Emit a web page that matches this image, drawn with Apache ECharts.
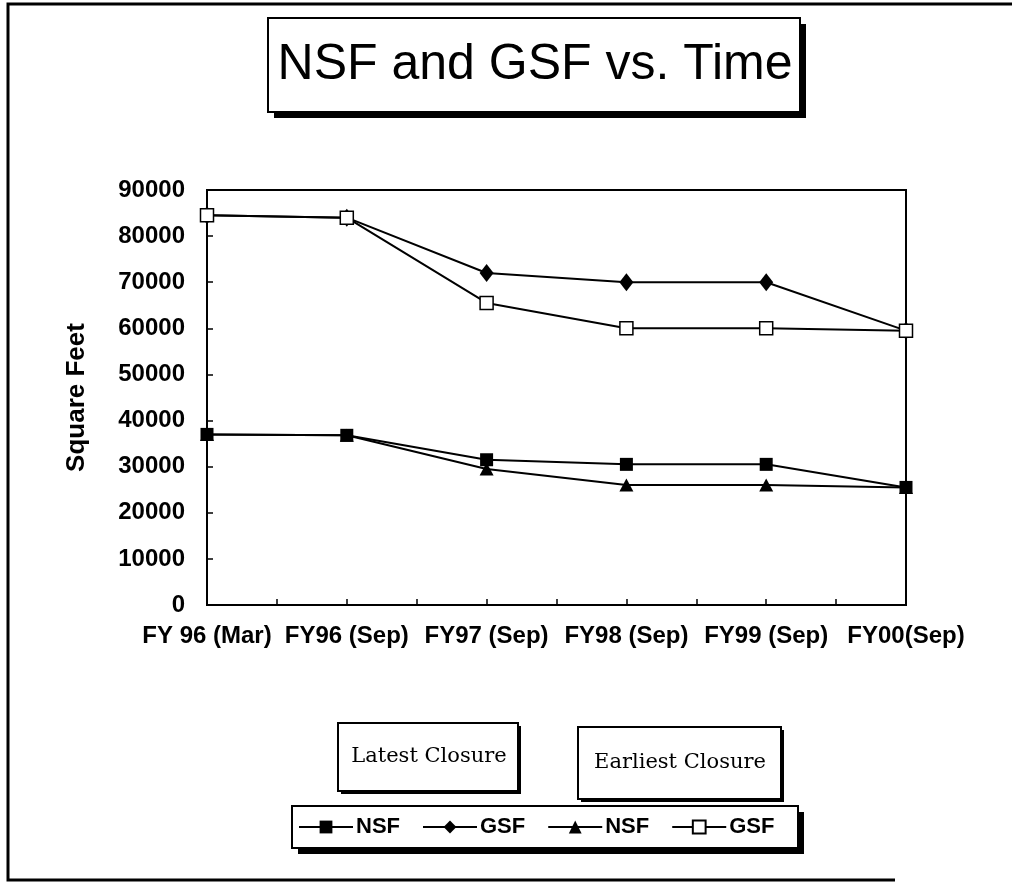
<!DOCTYPE html>
<html>
<head>
<meta charset="utf-8">
<script src="https://cdn.jsdelivr.net/npm/echarts@6/dist/echarts.min.js"></script>
<style>
  html, body { margin: 0; padding: 0; background: #fff; }
  #main { width: 1016px; height: 884px; }
</style>
</head>
<body>
<div id="main"></div>
<script>
// x categories (fiscal year snapshots)
const categories = ['FY 96 (Mar)', 'FY96 (Sep)', 'FY97 (Sep)', 'FY98 (Sep)', 'FY99 (Sep)', 'FY00(Sep)'];
// latest closure
const nsfLatest = [37000, 36800, 31500, 30500, 30500, 25500];
const gsfLatest = [84500, 84000, 72000, 70000, 70000, 59500];
// earliest closure
const nsfEarliest = [37000, 36800, 29500, 26000, 26000, 25500];
const gsfEarliest = [84500, 84000, 65500, 60000, 60000, 59500];
// y axis ticks
const yMin = 0, yMax = 90000, yStep = 10000;

const font = 'Liberation Sans, Arial, sans-serif';

function pairs(arr) {
  return arr.map((v, i) => [i, v]);
}

// box with a hard drop shadow
function box(x, y, w, h, sh, lw) {
  return [
    { type: 'rect', shape: { x: x + sh, y: y + sh, width: w, height: h }, style: { fill: '#000' }, z: 0 },
    { type: 'rect', shape: { x: x, y: y, width: w, height: h }, style: { fill: '#fff', stroke: '#000', lineWidth: lw }, z: 1 }
  ];
}

let myChart = echarts.init(document.getElementById('main'));
myChart.setOption({
  backgroundColor: '#fff',
  animation: false,
  title: {
    text: 'NSF and GSF vs. Time',
    left: 535,
    top: 40,
    textAlign: 'center',
    padding: 0,
    z: 10,
    textStyle: { fontFamily: font, fontSize: 50, fontWeight: 'normal', color: '#000' }
  },
  graphic: [
    // outer frame
    { type: 'polyline', shape: { points: [[1012, 4], [8, 4], [8, 880], [895, 880]] }, style: { stroke: '#000', lineWidth: 3, fill: null } },
    ...box(268, 18, 532, 94, 6, 2),
    ...box(338, 723, 180, 68, 3, 2),
    ...box(578, 727, 203, 72, 3, 2),
    ...box(292, 806, 506, 42, 6, 2),
    { type: 'text', x: 429, y: 757, z: 5, style: { text: 'Latest Closure', fontFamily: 'DejaVu Serif', fontSize: 21, fill: '#000', textAlign: 'center', textVerticalAlign: 'middle' } },
    { type: 'text', x: 680, y: 763, z: 5, style: { text: 'Earliest Closure', fontFamily: 'DejaVu Serif', fontSize: 21, fill: '#000', textAlign: 'center', textVerticalAlign: 'middle' } }
  ],
  legend: {
    left: 298,
    top: 816,
    padding: 0,
    itemWidth: 54,
    itemHeight: 16,
    itemGap: 22,
    z: 10,
    formatter: name => name.split(' ')[0],
    textStyle: { fontFamily: font, fontSize: 22, fontWeight: 'bold', color: '#000', padding: [0, 0, 0, -2] },
    data: ['NSF latest', 'GSF latest', 'NSF earliest', 'GSF earliest']
  },
  grid: {
    left: 207,
    top: 190,
    right: 110,
    bottom: 279,
    show: true,
    borderColor: '#000',
    borderWidth: 2,
    backgroundColor: 'transparent'
  },
  xAxis: {
    type: 'value',
    min: 0,
    max: categories.length - 1,
    interval: 0.5,
    splitLine: { show: false },
    axisLine: { lineStyle: { color: '#000', width: 2 } },
    axisTick: { inside: true, length: 6, lineStyle: { color: '#000', width: 1.5 } },
    axisLabel: {
      margin: 19,
      color: '#000',
      fontFamily: font,
      fontSize: 24,
      fontWeight: 'bold',
      formatter: v => (Number.isInteger(v) ? categories[v] : '')
    }
  },
  yAxis: {
    type: 'value',
    min: yMin,
    max: yMax,
    interval: yStep,
    name: 'Square Feet',
    nameLocation: 'middle',
    nameGap: 117,
    nameTextStyle: { fontFamily: font, fontSize: 26, fontWeight: 'bold', color: '#000' },
    splitLine: { show: false },
    axisLine: { lineStyle: { color: '#000', width: 2 } },
    axisTick: { inside: true, length: 6, lineStyle: { color: '#000', width: 1.5 } },
    axisLabel: {
      margin: 22,
      color: '#000',
      fontFamily: font,
      fontSize: 24,
      fontWeight: 'bold',
      formatter: v => String(v)
    }
  },
  series: [
    {
      name: 'NSF latest', type: 'line', data: pairs(nsfLatest),
      symbol: 'rect', symbolSize: 13,
      lineStyle: { color: '#000', width: 2 },
      itemStyle: { color: '#000' }
    },
    {
      name: 'GSF latest', type: 'line', data: pairs(gsfLatest),
      symbol: 'diamond', symbolSize: [14, 18],
      lineStyle: { color: '#000', width: 2 },
      itemStyle: { color: '#000' }
    },
    {
      name: 'NSF earliest', type: 'line', data: pairs(nsfEarliest),
      symbol: 'triangle', symbolSize: [14, 13],
      lineStyle: { color: '#000', width: 2 },
      itemStyle: { color: '#000' }
    },
    {
      name: 'GSF earliest', type: 'line', data: pairs(gsfEarliest),
      symbol: 'rect', symbolSize: 13,
      lineStyle: { color: '#000', width: 2 },
      itemStyle: { color: '#fff', borderColor: '#000', borderWidth: 1.5 }
    }
  ]
});
</script>
</body>
</html>
